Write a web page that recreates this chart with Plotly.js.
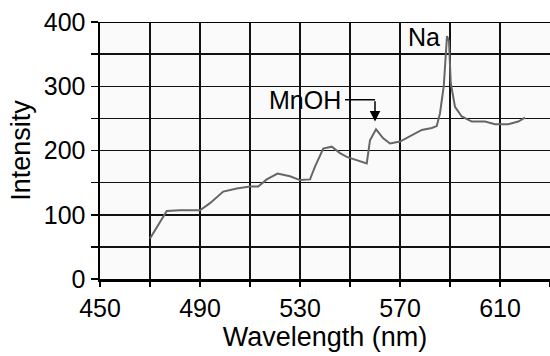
<!DOCTYPE html>
<html>
<head>
<meta charset="utf-8">
<script src="https://cdn.plot.ly/plotly-3.0.1.min.js"></script>
<style>html,body{margin:0;padding:0;background:#fff;}#chart{width:550px;height:356px;}</style>
</head>
<body>
<div id="chart"></div>
<script>
// Spectrum data (wavelength in nm, intensity)
const wavelength = [470, 476.7, 482, 490, 494, 499.3, 504.7, 510, 513.3, 516.7, 521, 526, 530, 534, 536, 539.3, 542.7, 546, 548.7, 552.7, 556.7, 558, 560.4, 563.3, 566, 570, 573.3, 578.7, 582.7, 584.7, 586, 587.5, 588.8, 589.6, 590.3, 592, 594.7, 598.7, 604, 608, 613.3, 617.3, 620];
const intensity  = [63, 106, 107, 107, 118, 136, 141, 144, 144, 155, 164, 160, 154, 155, 175, 203, 206, 196, 190, 185, 180, 216, 233, 219, 211, 214, 221, 232, 235, 238, 258, 300, 378, 370, 305, 268, 253, 245, 245, 241, 241, 245, 251];

const xTickVals = [450, 470, 490, 510, 530, 550, 570, 590, 610, 630];
const xTickText = ['450', '', '490', '', '530', '', '570', '', '610', ''];
const yTickVals = [0, 50, 100, 150, 200, 250, 300, 350, 400];
const yTickText = ['0', '', '100', '', '200', '', '300', '', '400'];

const naLabel = {text: 'Na', x: 586.6, y: 376};
const mnohLabel = {text: 'MnOH', x: 548, y: 279, tipX: 560, tipY: 245};

const FONT = 'Liberation Sans, Arial, sans-serif';
const TICK_FS = 25;
const TITLE_FS = 27;
const ANN_FS = 25;

const trace = {
  x: wavelength, y: intensity, type: 'scatter', mode: 'lines',
  line: {color: '#666666', width: 2},
  hoverinfo: 'skip'
};

const layout = {
  width: 550, height: 356,
  margin: {l: 100, r: 0, t: 22, b: 77},
  paper_bgcolor: '#ffffff', plot_bgcolor: '#fafafa',
  showlegend: false,
  font: {family: FONT, size: TICK_FS, color: '#000'},
  xaxis: {
    range: [450, 630], tickmode: 'array', tickvals: xTickVals, ticktext: xTickText,
    showgrid: true, gridcolor: '#111', gridwidth: 1.5,
    showline: true, linecolor: '#000', linewidth: 3,
    ticks: 'outside', ticklen: 5, tickwidth: 1.5, tickcolor: '#000',
    zeroline: false,
    tickfont: {family: FONT, size: TICK_FS, color: '#000'},
    title: {text: 'Wavelength (nm)', font: {family: FONT, size: TITLE_FS, color: '#000'}, standoff: 4}
  },
  yaxis: {
    range: [0, 400], tickmode: 'array', tickvals: yTickVals, ticktext: yTickText,
    showgrid: true, gridcolor: '#111', gridwidth: 1.5,
    showline: true, linecolor: '#000', linewidth: 2.5,
    ticks: 'outside', ticklen: 7, tickwidth: 1.5, tickcolor: '#000',
    zeroline: false,
    tickfont: {family: FONT, size: TICK_FS, color: '#000'},
    title: {text: 'Intensity', font: {family: FONT, size: TITLE_FS, color: '#000'}, standoff: 6}
  },
  shapes: [
    {type: 'line', xref: 'paper', yref: 'y', x0: 0, x1: 1, y0: 400, y1: 400, line: {color: '#000', width: 2}},
    {type: 'line', xref: 'x', yref: 'y', x0: mnohLabel.x, x1: mnohLabel.tipX, y0: mnohLabel.y, y1: mnohLabel.y, line: {color: '#000', width: 1.5}}
  ],
  annotations: [
    {x: naLabel.x, y: naLabel.y, xref: 'x', yref: 'y', text: naLabel.text, showarrow: false,
     xanchor: 'right', yanchor: 'middle', font: {family: FONT, size: ANN_FS, color: '#000'}},
    {x: mnohLabel.x - 0.8, y: mnohLabel.y, xref: 'x', yref: 'y', text: mnohLabel.text, showarrow: false,
     xanchor: 'right', yanchor: 'middle', font: {family: FONT, size: ANN_FS, color: '#000'}},
    {x: mnohLabel.tipX, y: mnohLabel.tipY, xref: 'x', yref: 'y', ax: mnohLabel.tipX, ay: mnohLabel.y,
     axref: 'x', ayref: 'y', text: '', showarrow: true, arrowhead: 2, arrowsize: 1.4, arrowwidth: 1.5, arrowcolor: '#000'}
  ]
};

Plotly.newPlot('chart', [trace], layout, {displayModeBar: false, staticPlot: true});
</script>
</body>
</html>
